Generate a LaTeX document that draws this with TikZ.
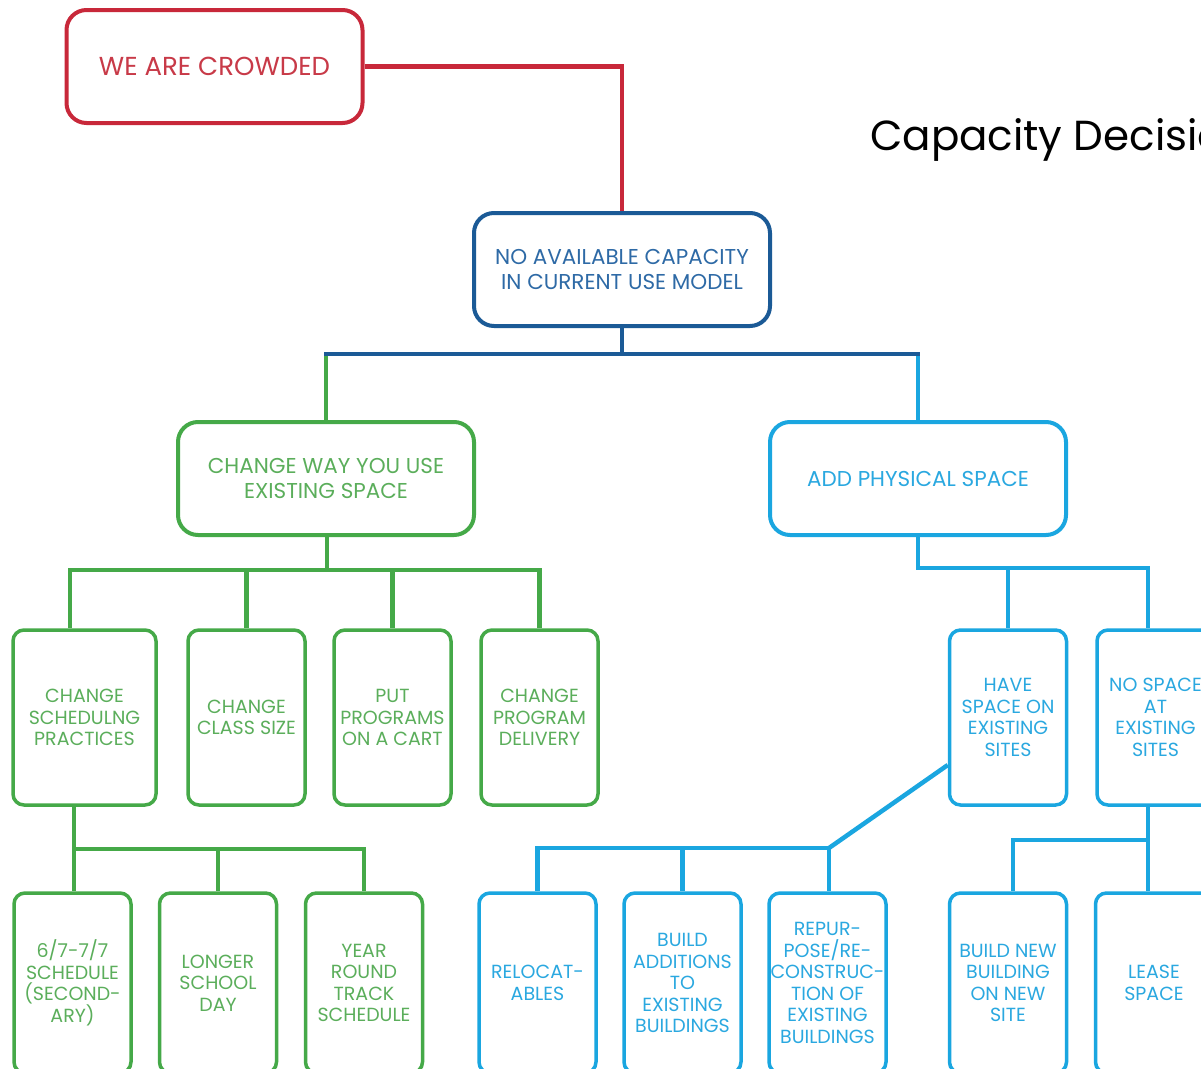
\documentclass[tikz,border=0pt]{standalone}
\usepackage{fontspec}
\setmainfont{Poppins}
\definecolor{cred}{HTML}{C8283A}
\definecolor{cdblue}{HTML}{1B5A96}
\definecolor{cgreen}{HTML}{45A948}
\definecolor{clblue}{HTML}{1AA6E0}
\definecolor{tred}{HTML}{C83A48}
\definecolor{tdblue}{HTML}{2E6AA6}
\definecolor{tgreen}{HTML}{5BAE5B}
\definecolor{tlblue}{HTML}{2AA8E0}
\tikzset{
  big/.style={draw, line width=4pt, rounded corners=20pt, minimum width=296pt, minimum height=113pt, align=center, inner sep=0pt},
  small/.style={draw, line width=3.5pt, rounded corners=11pt, minimum width=117pt, minimum height=175pt, align=center, inner sep=0pt, font=\fontsize{19}{21.5}\selectfont},
  tall/.style={small, minimum height=180pt},
  gbox/.style={draw=cgreen, text=tgreen},
  bbox/.style={draw=clblue, text=tlblue},
  gline/.style={draw=cgreen, line width=4.5pt},
  bline/.style={draw=clblue, line width=4.5pt},
}
\begin{document}
\begin{tikzpicture}[x=1pt,y=-1pt]
\useasboundingbox[fill=white] (0,0) rectangle (1201,1068);
% title
\node[anchor=base west, inner sep=0pt, font=\fontsize{42}{46}\selectfont] (title) at (870,150) {Capacity Decisions};
% top levels
\node[big, draw=cred, text=tred, font=\fontsize{26}{30}\selectfont] (crowd) at (214.5,66.5) {WE ARE CROWDED};
\node[big, draw=cdblue, text=tdblue, font=\fontsize{21.5}{25}\selectfont] (nocap) at (622,269.5) {NO AVAILABLE CAPACITY\\IN CURRENT USE MODEL};
\node[big, gbox, font=\fontsize{21.5}{25}\selectfont] (chg) at (326,478.5) {CHANGE WAY YOU USE\\EXISTING SPACE};
\node[big, bbox, font=\fontsize{21.5}{25}\selectfont] (add) at (918,478.5) {ADD PHYSICAL SPACE};
% green mid
\node[small, gbox, minimum width=143pt] (g1) at (84.5,717.5) {CHANGE\\SCHEDULNG\\PRACTICES};
\node[small, gbox] (g2) at (246.5,717.5) {CHANGE\\CLASS SIZE};
\node[small, gbox] (g3) at (392.5,717.5) {PUT\\PROGRAMS\\ON A CART};
\node[small, gbox] (g4) at (539.5,717.5) {CHANGE\\PROGRAM\\DELIVERY};
% green bottom
\node[tall, gbox] (gb1) at (72.5,983) {6/7-7/7\\SCHEDULE\\(SECOND-\\ARY)};
\node[tall, gbox] (gb2) at (218,983) {LONGER\\SCHOOL\\DAY};
\node[tall, gbox] (gb3) at (364,983) {YEAR\\ROUND\\TRACK\\SCHEDULE};
% blue mid
\node[small, bbox] (b1) at (1008,717.5) {HAVE\\SPACE ON\\EXISTING\\SITES};
\node[small, bbox] (b2) at (1155.5,717.5) {NO SPACE\\AT\\EXISTING\\SITES};
% blue bottom
\node[tall, bbox] (bb1) at (537.5,983) {RELOCAT-\\ABLES};
\node[tall, bbox] (bb2) at (682.5,983) {BUILD\\ADDITIONS\\TO\\EXISTING\\BUILDINGS};
\node[tall, bbox] (bb3) at (827.5,983) {REPUR-\\POSE/RE-\\CONSTRUC-\\TION OF\\EXISTING\\BUILDINGS};
\node[tall, bbox] (bb4) at (1008,983) {BUILD NEW\\BUILDING\\ON NEW\\SITE};
\node[tall, bbox] (bb5) at (1154,983) {LEASE\\SPACE};
% junctions
\coordinate (j1) at (622,354);
\coordinate (j2) at (327,570);
\coordinate (j2a) at (70,570);
\coordinate (j3) at (74,849);
\coordinate (j4) at (918,568);
\coordinate (j4b) at (1148,568);
\coordinate (j5) at (829,848);
\coordinate (j6) at (1148,840);
\coordinate (j7) at (1013,840);
% connectors
\draw[cred, line width=4.5pt] (crowd.east) -| (nocap.north);
\draw[cdblue, line width=4.5pt] (nocap.south) -- (j1);
\draw[gline] (chg.north) -- (chg.north |- j1);
\draw[bline] (add.north) -- (add.north |- j1);
\draw[cdblue, line width=4.5pt, line cap=rect] (chg.north |- j1) -- (add.north |- j1);
% green tree
\draw[gline] (j2 |- chg.south) -- (j2);
\draw[gline, line cap=rect] (j2a) -- (g4.north |- j2);
\draw[gline] (j2a) -- (j2a |- g1.north);
\draw[gline] (g2.north |- j2) -- (g2.north);
\draw[gline] (g3.north |- j2) -- (g3.north);
\draw[gline] (g4.north |- j2) -- (g4.north);
\draw[gline] (j3 |- g1.south) -- (j3) -- (j3 |- gb1.north);
\draw[gline, line cap=rect] (j3) -- (gb3.north |- j3);
\draw[gline] (gb2.north |- j3) -- (gb2.north);
\draw[gline] (gb3.north |- j3) -- (gb3.north);
% blue tree
\draw[bline] (add.south) -- (j4);
\draw[bline, line cap=rect] (j4) -- (j4b);
\draw[bline] (b1.north |- j4) -- (b1.north);
\draw[bline] (j4b) -- (j4b |- b2.north);
\draw[bline] ([yshift=-47.5pt]b1.west) -- (j5);
\draw[bline, line cap=rect] (j5) -- (bb1.north |- j5);
\draw[bline] (bb1.north |- j5) -- (bb1.north);
\draw[bline] (bb2.north |- j5) -- (bb2.north);
\draw[bline] (j5) -- (j5 |- bb3.north);
\draw[bline] (j6 |- b2.south) -- (j6 |- bb5.north);
\draw[bline] (j6) -- (j7) -- (j7 |- bb4.north);
\end{tikzpicture}
\end{document}
